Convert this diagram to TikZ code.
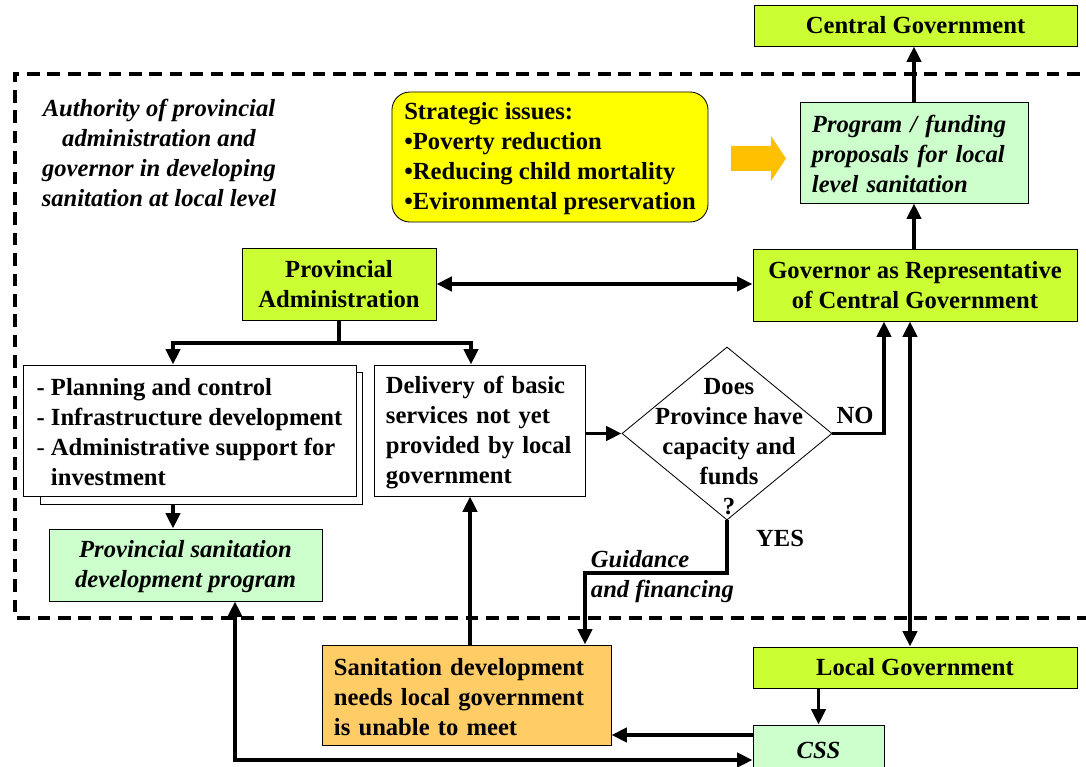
\documentclass[tikz,border=0pt]{standalone}
\usepackage{fontspec}
\setmainfont{Liberation Serif}
\usepackage{xcolor}
\usetikzlibrary{arrows.meta,calc,positioning,shapes.geometric}
\definecolor{limebox}{HTML}{CCFF33}
\definecolor{mintbox}{HTML}{CCFFCC}
\definecolor{issueyellow}{HTML}{FFFF00}
\definecolor{needorange}{HTML}{FFCC66}
\definecolor{pushorange}{HTML}{FFC000}
\tikzset{
  every node/.style={font=\fontsize{17.5}{21.3}\selectfont\bfseries},
  italic/.style={font=\fontsize{17.5}{21.3}\selectfont\bfseries\itshape},
  conn/.style={line width=2.8pt},
  flow/.style={conn, -{Triangle[length=11pt,width=10pt]}},
  twoway/.style={conn, {Triangle[length=11pt,width=10pt]}-{Triangle[length=11pt,width=10pt]}},
  frame/.style={line width=2.6pt, dash pattern=on 9pt off 5.5pt},
  govbox/.style={draw, line width=0.6pt, fill=limebox, inner sep=0.1cm, align=center},
  mintnode/.style={draw, line width=0.6pt, fill=mintbox, inner xsep=0.3cm, inner ysep=0.1cm},
  plainbox/.style={draw, line width=0.6pt, fill=white, inner xsep=0.3cm, inner ysep=0.1cm},
  needbox/.style={draw, line width=0.6pt, fill=needorange, inner xsep=0.3cm, inner ysep=0.1cm},
  issuebox/.style={draw, line width=0.6pt, fill=issueyellow, rounded corners=0.45cm, align=left},
  decision/.style={diamond, draw, line width=0.6pt, inner sep=0pt}
}

\begin{document}
\begin{tikzpicture}[x=0.025cm,y=-0.025cm]
  \useasboundingbox (0,0) rectangle (1086,767);
  \clip (0,0) rectangle (1086,767);
  % dashed frame of the provincial level
  \draw[frame] (1100,74) -- (15,74) -- (15,618) -- (1100,618);
  \node[italic, align=center] (title) at (159,153) {Authority of provincial\\administration and\\governor in developing\\sanitation at local level};

  % top row
  \node[govbox, minimum width=8.075cm, minimum height=1.025cm] (central) at (915.5,25.5) {Central Government};
  \node[issuebox, minimum width=7.9cm, minimum height=3.25cm] (issues) at (550,157) {\strut Strategic issues:\\•Poverty reduction\\•Reducing child mortality\\•Evironmental preservation};
  \fill[pushorange] (731,146) -- (771,146) -- (771,136) -- (786,158.5) -- (771,181) -- (771,171) -- (731,171) -- cycle;
  \node[mintnode, italic, align=left, text width=5.1cm, minimum height=2.525cm] (proposals) at (914,152.5) {\strut Program / funding\\proposals for local\\level sanitation};
  \node[govbox, minimum width=8.1cm, minimum height=1.8cm] (governor) at (915,285) {Governor as Representative\\of Central Government};
  \node[govbox, minimum width=4.85cm, minimum height=1.8cm] (provadmin) at (339,284) {Provincial\\Administration};

  % middle row
  \node[plainbox, minimum width=8.05cm, minimum height=3.3cm] (planningback) at (201,438) {};
  \node[plainbox, align=left, minimum width=8.325cm, minimum height=3.275cm] (planning) at (189.5,430.5) {\strut - Planning and control\\- Infrastructure development\\{\mdseries -} Administrative support for\\\hphantom{- }investment};
  \node[plainbox, align=left, text width=4.675cm, minimum height=3.275cm] (delivery) at (479.5,430.5) {\strut Delivery of basic\\services not yet\\provided by local\\government};
  \node[decision, minimum width=5.25cm, minimum height=4.325cm] (decision) at (727,433.5) {};
  \node[align=center] (question) at (729,447) {Does\\Province have\\capacity and\\funds\\?};
  \node[mintnode, italic, align=center, minimum width=6.825cm, minimum height=1.8cm] (provprogram) at (185.5,565) {\strut Provincial sanitation\\development program};
  \node (nolabel) at (855,415) {NO};
  \node (yeslabel) at (780,538) {YES};
  \node[italic, align=left, anchor=west] (guidance) at (586,577) {Guidance\\and financing};

  % bottom row
  \node[needbox, align=left, text width=6.625cm, minimum height=2.5cm] (needs) at (466.5,695) {\strut Sanitation development\\needs local government\\is unable to meet};
  \node[govbox, minimum width=8.1cm, minimum height=1.025cm] (localgov) at (915,667.5) {Local Government};
  \node[mintnode, italic, minimum width=3.275cm, minimum height=1.25cm] (css) at (818.5,750) {CSS};

  % connectors
  \coordinate (leftdrop) at (173,343);
  \coordinate (rightdrop) at (471,343);
  \coordinate (noup) at (884,0);
  \coordinate (govlink) at (910,0);
  \coordinate (yesturn) at (585,573);
  \coordinate (needsup) at (470,0);
  \coordinate (cssout) at (0,735);
  \coordinate (loopback) at (235,760);
  \draw[flow] (proposals.north) -- (proposals.north |- central.south);
  \draw[flow] (proposals.south |- governor.north) -- (proposals.south);
  \draw[twoway] (provadmin.east) -- (provadmin.east -| governor.west);
  \draw[conn] (provadmin.south) -- (provadmin.south |- leftdrop);
  \draw[flow] (provadmin.south |- leftdrop) -- (leftdrop) -- (leftdrop |- planning.north);
  \draw[flow] (provadmin.south |- leftdrop) -- (rightdrop) -- (rightdrop |- delivery.north);
  \draw[flow] (leftdrop |- planningback.south) -- (leftdrop |- provprogram.north);
  \draw[flow] (decision.west -| delivery.east) -- (decision.west);
  \draw[flow] (decision.east) -| (noup |- governor.south);
  \draw[twoway] (govlink |- governor.south) -- (govlink |- localgov.north);
  \draw[flow] (decision.south) |- (yesturn) -- (yesturn |- needs.north);
  \draw[flow] (needsup |- needs.north) -- (needsup |- delivery.south);
  \draw[flow] (css.north |- localgov.south) -- (css.north);
  \draw[flow] (cssout -| css.west) -- (cssout -| needs.east);
  \draw[twoway] (loopback -| css.west) -| (loopback |- provprogram.south);
\end{tikzpicture}
\end{document}
